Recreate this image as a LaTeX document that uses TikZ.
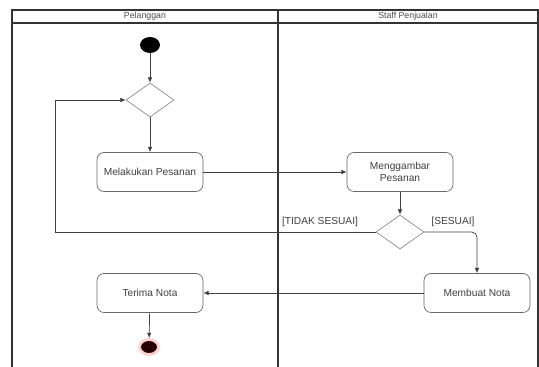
\documentclass[tikz,border=0pt]{standalone}
\usepackage{fontspec}
\setmainfont{Liberation Sans}
\usetikzlibrary{shapes.geometric,arrows.meta}
\begin{document}
\begin{tikzpicture}[x=0.02cm,y=-0.02cm,
  act/.style={draw=black!60,rounded corners=4pt,minimum width=2.12cm,minimum height=0.78cm,align=center,font=\fontsize{5.8}{6.6}\selectfont,text=black!75},
  dec/.style={draw=black!45,diamond,minimum width=0.96cm,minimum height=0.68cm,inner sep=0pt},
  flow/.style={draw=black!75,-{Latex[length=3pt,width=2.6pt]}},
  lane/.style={draw=black!80,line width=0.6pt},
  lbl/.style={font=\fontsize{5.8}{6.6}\selectfont,text=black!75,inner sep=0pt}]
\useasboundingbox (0,0) rectangle (539,367);
% swimlanes
\draw[lane] (12,367) -- (12,10) -- (538,10) -- (538,367);
\draw[lane] (12,23) -- (538,23);
\draw[lane] (278,10) -- (278,367);
\node[font=\fontsize{5}{6}\selectfont,text=black!70] (pel) at (145,16.5) {Pelanggan};
\node[font=\fontsize{5}{6}\selectfont,text=black!70] (staff) at (408,16.5) {Staff Penjualan};
% activities
\node[ellipse,fill=black,minimum width=0.4cm,minimum height=0.32cm,inner sep=0pt] (start) at (150,45) {};
\node[dec] (d1) at (150,100) {};
\node[act] (pesan) at (150,172) {Melakukan Pesanan};
\node[act] (gambar) at (400,172) {Menggambar\\Pesanan};
\node[dec] (d2) at (400,232) {};
\node[act] (buat) at (477,293) {Membuat Nota};
\node[act] (terima) at (150,293) {Terima Nota};
\node[ellipse,fill=black!85!red,draw=red!18,line width=1.6pt,minimum width=0.38cm,minimum height=0.3cm,inner sep=0pt] (end) at (149,347) {};
\coordinate (kiri) at (55,232);
\node[lbl] (tidak) at (320,222) {[TIDAK SESUAI]};
\node[lbl] (sesuai) at (453,222) {[SESUAI]};
% flows
\draw[flow] (start) -- (d1);
\draw[flow] (d1) -- (pesan);
\draw[flow] (pesan) -- (gambar);
\draw[flow] (gambar) -- (d2);
\draw[flow] (d2.west) -- (kiri) |- (d1.west);
\draw[flow,rounded corners=3pt] (d2.east) -| (buat.north);
\draw[flow] (buat) -- (terima);
\draw[flow] (terima) -- (end);
\end{tikzpicture}
\end{document}
